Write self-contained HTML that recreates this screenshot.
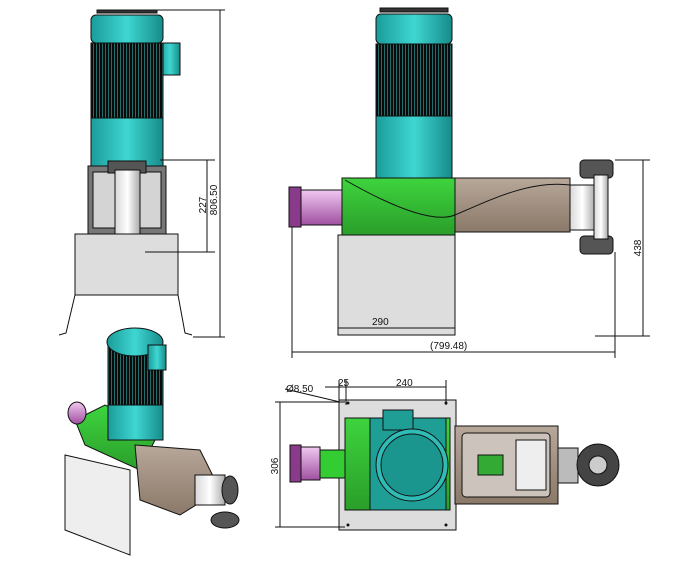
<!DOCTYPE html>
<html><head><style>body{margin:0;background:#fff}svg{display:block}text{font-family:"Liberation Sans",sans-serif;font-size:10px;fill:#111}</style></head><body>
<svg width="692" height="564" viewBox="0 0 692 564" xmlns="http://www.w3.org/2000/svg">
<defs>
<linearGradient id="tl" x1="0" x2="1"><stop offset="0" stop-color="#1a9c9a"/><stop offset=".5" stop-color="#3fd6d2"/><stop offset="1" stop-color="#168c8a"/></linearGradient>
<linearGradient id="tb" x1="0" x2="1"><stop offset="0" stop-color="#d8d8d8"/><stop offset=".5" stop-color="#fff"/><stop offset="1" stop-color="#aaa"/></linearGradient>
<linearGradient id="gr" x1="0" y1="0" x2="0" y2="1"><stop offset="0" stop-color="#3ed43e"/><stop offset="1" stop-color="#2a9e2a"/></linearGradient>
<linearGradient id="br" x1="0" y1="0" x2="0" y2="1"><stop offset="0" stop-color="#b8a89a"/><stop offset="1" stop-color="#8a7868"/></linearGradient>
<linearGradient id="pk" x1="0" y1="0" x2="0" y2="1"><stop offset="0" stop-color="#f0c8f0"/><stop offset="1" stop-color="#a050a0"/></linearGradient>
<pattern id="fin" width="3" height="10" patternUnits="userSpaceOnUse"><rect width="3" height="10" fill="#0a0a0a"/><rect width="1" height="10" fill="#1f6e6c"/></pattern>
</defs>
<g stroke="#111" stroke-width="1">
<!-- top-left view -->
<rect x="97" y="10" width="60" height="3" fill="#333"/>
<rect x="91" y="15" width="72" height="28" rx="5" fill="url(#tl)"/>
<rect x="160" y="43" width="20" height="32" fill="url(#tl)"/>
<rect x="91" y="43" width="72" height="75" fill="url(#fin)"/>
<rect x="91" y="118" width="72" height="48" fill="url(#tl)"/>
<rect x="88" y="166" width="78" height="68" fill="#777"/>
<rect x="93" y="172" width="68" height="56" fill="#d4d4d4"/>
<rect x="108" y="161" width="38" height="12" fill="#555"/>
<rect x="115" y="170" width="25" height="72" fill="url(#tb)"/>
<rect x="108" y="238" width="38" height="13" fill="#555"/>
<rect x="75" y="234" width="103" height="61" fill="#ddd"/>
<polyline points="75,295 66,333 59,335" fill="none"/>
<polyline points="178,295 185,333 192,335" fill="none"/>
<line x1="160" y1="160" x2="215" y2="160"/><line x1="145" y1="252" x2="215" y2="252"/>
<line x1="207" y1="160" x2="207" y2="252"/>
<line x1="155" y1="10" x2="225" y2="10"/><line x1="193" y1="337" x2="225" y2="337"/>
<line x1="220" y1="10" x2="220" y2="337"/>
<!-- top-right view -->
<rect x="380" y="8" width="68" height="4" fill="#333"/>
<rect x="376" y="14" width="76" height="30" rx="5" fill="url(#tl)"/>
<rect x="376" y="44" width="76" height="72" fill="url(#fin)"/>
<rect x="376" y="116" width="76" height="62" fill="url(#tl)"/>
<rect x="342" y="178" width="113" height="57" fill="url(#gr)"/>
<rect x="455" y="178" width="115" height="54" fill="url(#br)"/>
<path d="M345 180 C380 200,430 225,455 215" fill="none"/>
<path d="M455 215 C490 200,530 180,570 185" fill="none"/>
<rect x="570" y="185" width="25" height="45" fill="url(#tb)"/>
<rect x="580" y="160" width="33" height="18" rx="4" fill="#555"/>
<rect x="580" y="236" width="33" height="18" rx="4" fill="#555"/>
<rect x="594" y="175" width="14" height="64" fill="url(#tb)"/>
<rect x="300" y="190" width="42" height="35" fill="url(#pk)"/>
<rect x="289" y="187" width="12" height="40" fill="#8a3a8a"/>
<rect x="338" y="235" width="117" height="100" fill="#ddd"/>
<line x1="292" y1="227" x2="292" y2="358"/><line x1="615" y1="252" x2="615" y2="358"/>
<line x1="292" y1="352" x2="615" y2="352"/>
<line x1="338" y1="328" x2="455" y2="328"/>
<line x1="615" y1="160" x2="650" y2="160"/><line x1="595" y1="336" x2="650" y2="336"/>
<line x1="643" y1="160" x2="643" y2="336"/>
<!-- bottom-left iso -->
<polygon points="65,455 130,470 130,555 65,530" fill="#eee"/>
<polygon points="75,420 105,405 160,430 140,470 85,445" fill="url(#gr)"/>
<polygon points="135,445 200,450 220,490 180,515 140,500" fill="url(#br)"/>
<rect x="108" y="345" width="55" height="75" fill="url(#fin)"/>
<ellipse cx="135" cy="342" rx="28" ry="14" fill="url(#tl)"/>
<rect x="108" y="405" width="55" height="35" fill="url(#tl)"/>
<rect x="148" y="345" width="18" height="25" fill="url(#tl)"/>
<ellipse cx="77" cy="413" rx="9" ry="11" fill="url(#pk)"/>
<rect x="195" y="475" width="30" height="30" fill="url(#tb)"/>
<ellipse cx="230" cy="490" rx="8" ry="14" fill="#555"/>
<ellipse cx="225" cy="520" rx="14" ry="8" fill="#555"/>
<!-- bottom-right view -->
<rect x="339" y="400" width="117" height="130" fill="#ddd"/>
<rect x="345" y="418" width="105" height="92" fill="url(#gr)"/>
<rect x="370" y="418" width="76" height="92" fill="#1f9e96"/>
<rect x="383" y="410" width="30" height="20" fill="#1f9e96"/>
<circle cx="412" cy="465" r="36" fill="#2fbcb6"/>
<circle cx="412" cy="465" r="31" fill="#1a968f"/>
<rect x="455" y="426" width="103" height="78" fill="url(#br)"/>
<rect x="462" y="433" width="88" height="64" rx="4" fill="#ccc4bc"/>
<rect x="516" y="440" width="30" height="50" fill="#eee"/>
<rect x="478" y="455" width="25" height="20" fill="#3a3"/>
<rect x="558" y="448" width="20" height="35" fill="#bbb"/>
<circle cx="598" cy="465" r="21" fill="#444"/>
<circle cx="598" cy="465" r="9" fill="#ccc"/>
<rect x="320" y="450" width="25" height="28" fill="#3c3"/>
<rect x="300" y="447" width="20" height="33" fill="url(#pk)"/>
<rect x="290" y="445" width="11" height="37" fill="#8a3a8a"/>
<line x1="275" y1="402" x2="345" y2="402"/><line x1="275" y1="527" x2="345" y2="527"/>
<line x1="280" y1="402" x2="280" y2="527"/>
<line x1="339" y1="380" x2="339" y2="405"/><line x1="346" y1="380" x2="346" y2="405"/><line x1="446" y1="380" x2="446" y2="405"/>
<line x1="325" y1="387" x2="446" y2="387"/>
<line x1="285" y1="389" x2="340" y2="402"/>
</g>
<g fill="#111">
<circle cx="348" cy="403" r="1.5"/><circle cx="446" cy="403" r="1.5"/><circle cx="348" cy="525" r="1.5"/><circle cx="446" cy="525" r="1.5"/>
</g>
<text transform="translate(217,200) rotate(-90)" text-anchor="middle">806.50</text>
<text transform="translate(206,205) rotate(-90)" text-anchor="middle">227</text>
<text transform="translate(641,248) rotate(-90)" text-anchor="middle">438</text>
<text x="372" y="325">290</text>
<text x="430" y="349">(799.48)</text>
<text x="286" y="392">Ø8.50</text>
<text x="338" y="386">25</text>
<text x="396" y="386">240</text>
<text transform="translate(278,466) rotate(-90)" text-anchor="middle">306</text>
</svg>
</body></html>
